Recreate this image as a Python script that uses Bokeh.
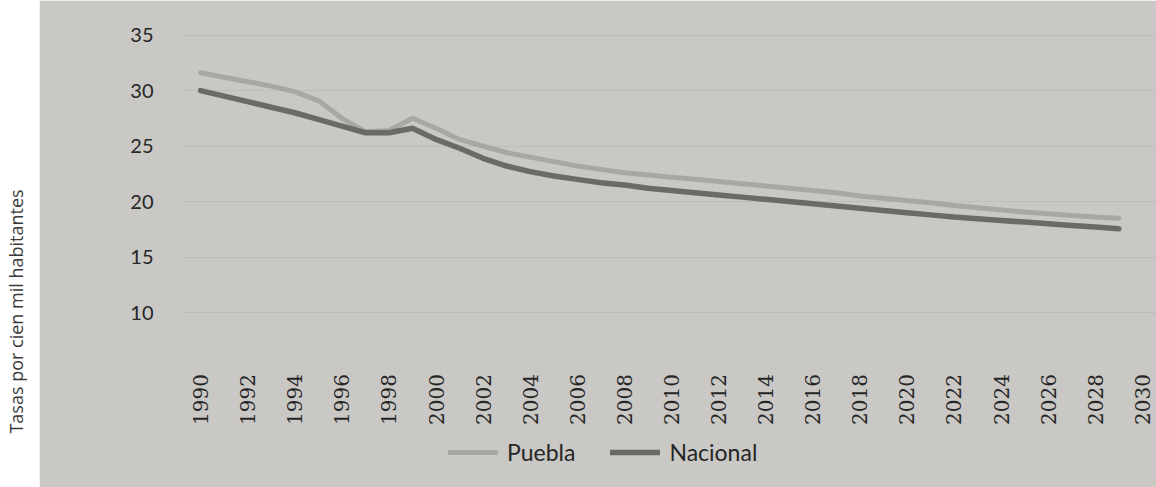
import math
from bokeh.plotting import figure
from bokeh.models import FixedTicker, Range1d, Legend, LegendItem
from bokeh.core.properties import value
from bokeh.layouts import row
from bokeh.embed import file_html
from bokeh.resources import INLINE

# ---------------- data ----------------
years = [1990, 1991, 1992, 1993, 1994, 1995, 1996, 1997, 1998, 1999,
         2000, 2001, 2002, 2003, 2004, 2005, 2006, 2007, 2008, 2009,
         2010, 2011, 2012, 2013, 2014, 2015, 2016, 2017, 2018, 2019,
         2020, 2021, 2022, 2023, 2024, 2025, 2026, 2027, 2028, 2029]

puebla = [31.6, 31.2, 30.8, 30.4, 29.9, 29.1, 27.5, 26.3, 26.4, 27.5,
          26.6, 25.6, 25.0, 24.4, 24.0, 23.6, 23.2, 22.9, 22.6, 22.4,
          22.2, 22.0, 21.8, 21.6, 21.4, 21.2, 21.0, 20.8, 20.5, 20.3,
          20.1, 19.9, 19.65, 19.45, 19.25, 19.05, 18.9, 18.75, 18.6, 18.5]

nacional = [30.0, 29.5, 29.0, 28.5, 28.0, 27.4, 26.8, 26.2, 26.2, 26.6,
            25.6, 24.8, 23.9, 23.2, 22.7, 22.3, 22.0, 21.7, 21.5, 21.2,
            21.0, 20.8, 20.6, 20.4, 20.2, 20.0, 19.8, 19.6, 19.4, 19.2,
            19.0, 18.8, 18.6, 18.45, 18.3, 18.15, 18.0, 17.85, 17.7, 17.55]

x_tick_years = [1990, 1992, 1994, 1996, 1998, 2000, 2002, 2004, 2006, 2008, 2010,
                2012, 2014, 2016, 2018, 2020, 2022, 2024, 2026, 2028, 2030]
x_tick_labels = ["1990", "1992", "1994", "1996", "1998", "2000", "2002", "2004",
                 "2006", "2008", "2010", "2012", "2014", "2016", "2018", "2020",
                 "2022", "2024", "2026", "2028", "2030"]
y_tick_values = [10, 15, 20, 25, 30, 35]
y_axis_min = 5
y_axis_title = "Tasas por cien mil habitantes"
series_names = ["Puebla", "Nacional"]

# ---------------- style ----------------
BG = "#c9c8c4"
GRID = "#bebdb9"
C_PUEBLA = "#a8a7a3"
C_NACIONAL = "#6b6a67"
TXT = "#262626"

W_LEFT = 39
W_MAIN = 1117
H = 487
TOP = 34

p = figure(width=W_MAIN, height=H,
           x_range=Range1d(1989.19, 2030.6), y_range=Range1d(-5.76, 35.05),
           output_backend="svg", toolbar_location=None,
           min_border_left=142, min_border_right=0,
           min_border_top=TOP, min_border_bottom=0)
p.background_fill_color = BG
p.border_fill_color = BG
p.outline_line_color = BG
p.outline_line_width = 2
p.xgrid.grid_line_color = None
p.ygrid.grid_line_color = GRID
p.ygrid.grid_line_width = 1

xa = p.xaxis[0]
xa.fixed_location = y_axis_min
xa.ticker = FixedTicker(ticks=x_tick_years)
xa.major_label_overrides = {yr: lab for yr, lab in zip(x_tick_years, x_tick_labels)}
xa.major_label_orientation = math.pi / 2
xa.axis_line_color = None
xa.major_tick_line_color = None
xa.minor_tick_line_color = None
xa.major_tick_out = 0
xa.major_tick_in = 0
xa.major_label_standoff = 6
xa.major_label_text_font = "DejaVu Serif"
xa.major_label_text_font_size = "20px"
xa.major_label_text_color = TXT

ya = p.yaxis[0]
ya.ticker = FixedTicker(ticks=y_tick_values)
ya.axis_line_color = None
ya.major_tick_line_color = None
ya.minor_tick_line_color = None
ya.major_tick_out = 0
ya.major_tick_in = 0
ya.major_label_standoff = 28
ya.major_label_text_font = "Lato"
ya.major_label_text_font_size = "20px"
ya.major_label_text_color = TXT

r_p = p.line(years, puebla, line_width=5, line_color=C_PUEBLA, line_join="round", line_cap="round")
r_n = p.line(years, nacional, line_width=5.5, line_color=C_NACIONAL, line_join="round", line_cap="round")

legend = Legend(items=[LegendItem(label=series_names[0], renderers=[r_p]),
                       LegendItem(label=series_names[1], renderers=[r_n])],
                orientation="horizontal", location=(267, 21),
                padding=0, margin=0, spacing=35, label_standoff=9,
                glyph_width=50, glyph_height=20,
                background_fill_alpha=0, border_line_alpha=0,
                label_text_font="Lato", label_text_font_size="23px",
                label_text_color=TXT)
p.add_layout(legend)

# left white strip with the axis title
lf = figure(width=W_LEFT, height=H, x_range=Range1d(0, W_LEFT), y_range=Range1d(0, H - TOP),
            output_backend="svg", toolbar_location=None,
            x_axis_location=None, y_axis_location=None,
            min_border_left=0, min_border_right=0,
            min_border_top=TOP, min_border_bottom=0)
lf.grid.visible = False
lf.outline_line_color = None
lf.background_fill_color = "white"
lf.border_fill_color = "white"
lf.text(x=[15], y=[H - 311], text=[y_axis_title], angle=math.pi / 2,
        text_align="center", text_baseline="middle",
        text_font=value("Open Sans"), text_font_size="18px", text_color="#3a3a3a")

layout = row(lf, p, spacing=0)
open("out.html", "w").write(file_html(layout, INLINE))
